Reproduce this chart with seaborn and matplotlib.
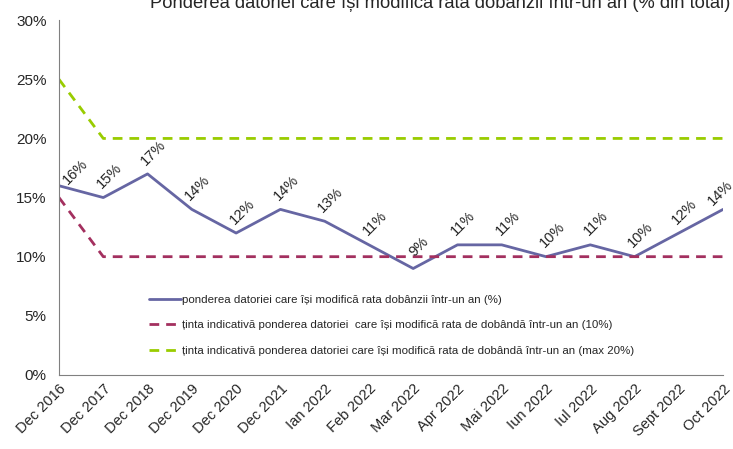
import numpy as np
import pandas as pd
import matplotlib
matplotlib.use("Agg")
import matplotlib.pyplot as plt
import seaborn as sns

luni = ['Dec 2016', 'Dec 2017', 'Dec 2018', 'Dec 2019', 'Dec 2020', 'Dec 2021',
        'Ian 2022', 'Feb 2022', 'Mar 2022', 'Apr 2022', 'Mai 2022', 'Iun 2022',
        'Iul 2022', 'Aug 2022', 'Sept 2022', 'Oct 2022']
pondere = [16, 15, 17, 14, 12, 14, 13, 11, 9, 11, 11, 10, 11, 10, 12, 14]
tinta_10 = [15, 10, 10, 10, 10, 10, 10, 10, 10, 10, 10, 10, 10, 10, 10, 10]
tinta_20 = [25, 20, 20, 20, 20, 20, 20, 20, 20, 20, 20, 20, 20, 20, 20, 20]

lbl_pondere = 'ponderea datoriei care își modifică rata dobânzii într-un an (%)'
lbl_t10 = 'ținta indicativă ponderea datoriei  care își modifică rata de dobândă într-un an (10%)'
lbl_t20 = 'ținta indicativă ponderea datoriei care își modifică rata de dobândă într-un an (max 20%)'

sns.set_style("white")
plt.rcParams['font.family'] = ['Liberation Sans', 'DejaVu Sans']

x = np.arange(len(luni))
df = pd.DataFrame({'x': x, 'pondere': pondere, 't10': tinta_10, 't20': tinta_20})

fig = plt.figure(figsize=(7.33, 4.49), dpi=100)
ax = fig.add_axes([0.0805, 0.165, 0.906, 0.79])

sns.lineplot(data=df, x='x', y='pondere', ax=ax, color='#6666A3', lw=2, label=lbl_pondere)
sns.lineplot(data=df, x='x', y='t10', ax=ax, color='#A3305F', lw=2, ls=(0, (3.5, 2.5)), label=lbl_t10)
sns.lineplot(data=df, x='x', y='t20', ax=ax, color='#99CC00', lw=2, ls=(0, (3.5, 2.5)), label=lbl_t20)

# etichete de date rotite la 45 de grade, deasupra punctului
n = len(pondere)
for i, (xi, v) in enumerate(zip(x, pondere)):
    if i == 0:
        off = (12, 10)   # impinsa in interiorul zonei graficului
    elif i == n - 1:
        off = (-2, 12)
    else:
        off = (4.3, 15.5)
    ax.annotate(f'{v}%', (xi, v), xytext=off, textcoords='offset points',
                rotation=45, ha='center', va='center', fontsize=10.5,
                annotation_clip=False)

ax.set_xlim(0, len(luni) - 1)
ax.set_ylim(0, 30)
ax.set_yticks(range(0, 31, 5))
ax.set_yticklabels([f'{t}%' for t in range(0, 31, 5)], fontsize=11)
ax.set_xticks(x)
ax.set_xticklabels(luni, rotation=45, ha='right', rotation_mode='anchor', fontsize=10.5)
ax.set_xlabel('')
ax.set_ylabel('')

for s in ['top', 'right']:
    ax.spines[s].set_visible(False)
for s in ['left', 'bottom']:
    ax.spines[s].set_color('#808080')
ax.tick_params(axis='both', which='both', direction='out', length=3, color='#808080', pad=2)
ax.tick_params(axis='y', pad=6)

ax.legend(loc='upper left', bbox_to_anchor=(0.12, 0.2535), frameon=False, fontsize=8.25,
          handlelength=2.8, handletextpad=0.1, labelspacing=1.32)

fig.text(0.601, 0.993, 'Ponderea datoriei care își modifică rata dobânzii într-un an (% din total)',
         ha='center', va='center', fontsize=13.2)

fig.savefig('out.png', dpi=100)
